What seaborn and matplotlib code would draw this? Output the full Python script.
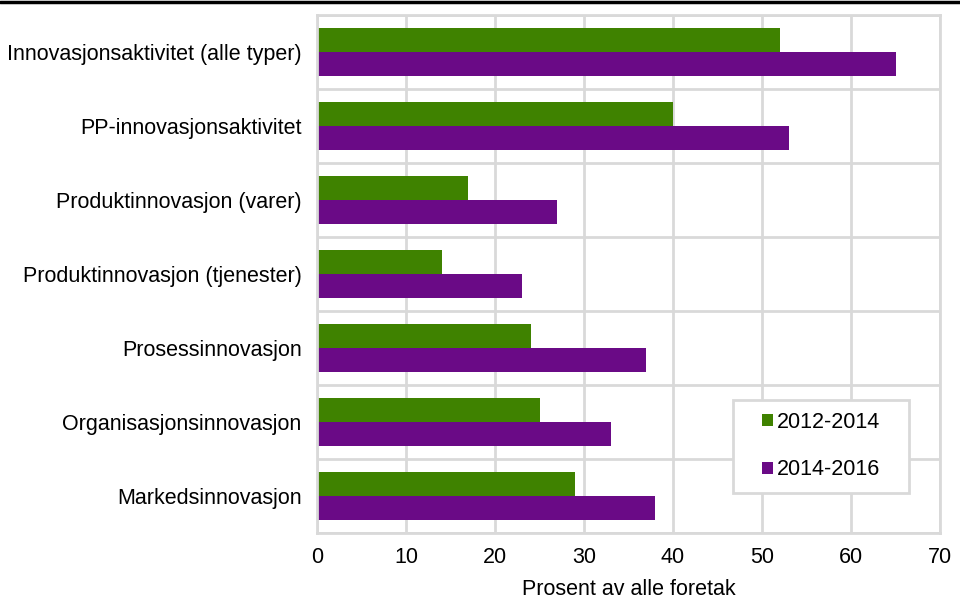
import matplotlib
matplotlib.use("Agg")
import matplotlib.pyplot as plt
from matplotlib.patches import Patch, Rectangle
from matplotlib.lines import Line2D
import numpy as np
import pandas as pd
import seaborn as sns

categories = [
    "Innovasjonsaktivitet (alle typer)",
    "PP-innovasjonsaktivitet",
    "Produktinnovasjon (varer)",
    "Produktinnovasjon (tjenester)",
    "Prosessinnovasjon",
    "Organisasjonsinnovasjon",
    "Markedsinnovasjon",
]
periods = ["2012-2014", "2014-2016"]
values_2012_2014 = [52, 40, 17, 14, 24, 25, 29]
values_2014_2016 = [65, 53, 27, 23, 37, 33, 38]
x_ticks = [0, 10, 20, 30, 40, 50, 60, 70]
x_label = "Prosent av alle foretak"

colors = {"2012-2014": "#3f8200", "2014-2016": "#6a0a86"}
grid_color = "#d9d9d9"
fs = 15.5

df = pd.DataFrame({
    "kategori": categories * 2,
    "periode": [periods[0]] * len(categories) + [periods[1]] * len(categories),
    "prosent": values_2012_2014 + values_2014_2016,
})

sns.set_theme(style="white")
plt.rcParams["font.family"] = ["Liberation Sans", "DejaVu Sans"]

W, H = 960, 601
fig = plt.figure(figsize=(W / 100, H / 100), dpi=100)
ax = fig.add_axes([317 / W, 1 - 533 / H, 623 / W, 518 / H])

sns.barplot(
    data=df, y="kategori", x="prosent", hue="periode",
    order=categories, hue_order=periods, palette=colors,
    orient="h", width=0.65, linewidth=0, saturation=1,
    errorbar=None, ax=ax, legend=False,
)

ax.set_xlim(0, 70)
ax.set_ylim(len(categories) - 0.5, -0.5)
ax.set_xticks(x_ticks)
ax.set_xticklabels([str(t) for t in x_ticks], fontsize=fs, color="#000000")
ax.tick_params(axis="y", labelsize=fs, colors="#000000", length=0, pad=11)
ax.tick_params(axis="x", length=0, pad=10)
ax.set_ylabel("")
ax.set_xlabel(x_label, fontsize=fs, color="#000000", labelpad=8)

# vertical grid at major x ticks, horizontal separators between categories
ax.set_yticks(np.arange(len(categories) + 1) - 0.5, minor=True)
ax.grid(axis="x", which="major", color=grid_color, linewidth=2)
ax.grid(axis="y", which="minor", color=grid_color, linewidth=2)
ax.tick_params(axis="y", which="minor", length=0)
ax.set_axisbelow(True)
for sp in ax.spines.values():
    sp.set_visible(True)
    sp.set_color(grid_color)
    sp.set_linewidth(2)

# legend box
x0, x1, y0, y1 = 733, 909, 400, 493
ax.add_patch(Rectangle(((x0 - 317) / 623, (533 - y1) / 518),
                       (x1 - x0) / 623, (y1 - y0) / 518,
                       transform=ax.transAxes, facecolor="white",
                       edgecolor=grid_color, linewidth=2, zorder=4))

handles = [Patch(facecolor=colors[p], edgecolor="none", label=p) for p in periods]
leg = ax.legend(
    handles=handles, loc="center left",
    bbox_to_anchor=((762 - 317) / 623, (533 - 446) / 518),
    borderaxespad=0, borderpad=0, fontsize=fs, frameon=False,
    handlelength=0.5, handleheight=0.5, handletextpad=0.2,
    labelspacing=1.25, labelcolor="#000000",
)
leg.set_zorder(5)

# dark rule across the top edge of the figure
fig.add_artist(Line2D([0, 1], [1 - 1.5 / H, 1 - 1.5 / H],
                      transform=fig.transFigure, color="#000000", linewidth=2.5))

fig.savefig("out.png", dpi=100)
